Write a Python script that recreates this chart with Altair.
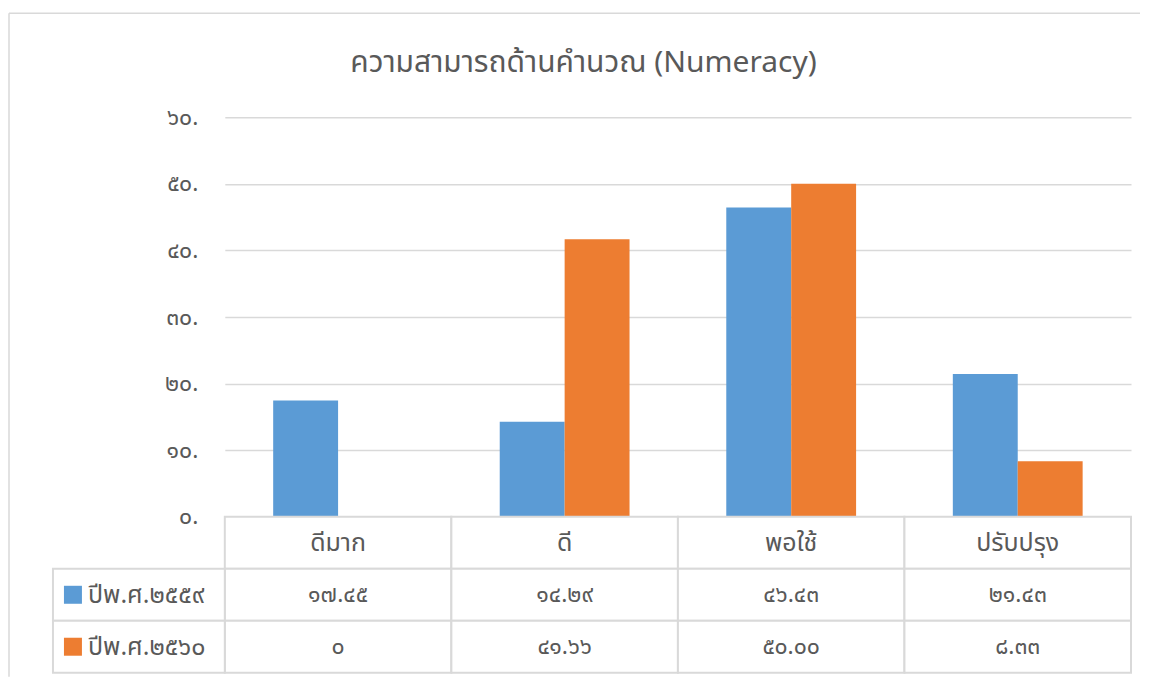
import altair as alt
import pandas as pd

categories = ["ดีมาก", "ดี", "พอใช้", "ปรับปรุง"]
series_names = ["ปีพ.ศ.๒๕๕๙", "ปีพ.ศ.๒๕๖๐"]
values_2559 = [17.45, 14.29, 46.43, 21.43]
values_2560 = [0, 41.66, 50.00, 8.33]
labels_2559 = ["๑๗.๔๕", "๑๔.๒๙", "๔๖.๔๓", "๒๑.๔๓"]
labels_2560 = ["๐", "๔๑.๖๖", "๕๐.๐๐", "๘.๓๓"]
y_ticks = [0, 10, 20, 30, 40, 50, 60]
y_tick_labels = ["๐.", "๑๐.", "๒๐.", "๓๐.", "๔๐.", "๕๐.", "๖๐."]
colors = ["#5B9BD5", "#ED7D31"]
title_text = "ความสามารถด้านคำนวณ  (Numeracy)"

FONT = "Noto Sans Thai, Tahoma, Noto Sans, sans-serif"
GRAY = "#595959"
LINE = "#d9d9d9"

rows = []
for s, vals, labs in [(series_names[0], values_2559, labels_2559),
                      (series_names[1], values_2560, labels_2560)]:
    for c, v, l in zip(categories, vals, labs):
        rows.append({"category": c, "series": s, "value": v, "label": l})
df = pd.DataFrame(rows)

label_expr = " : ".join(
    f"datum.value == {t} ? '{l}'" for t, l in zip(y_ticks, y_tick_labels)
) + " : ''"

color_scale = alt.Scale(domain=series_names, range=colors)

bars = alt.Chart(df).mark_bar().encode(
    x=alt.X("category:N", sort=categories, axis=None,
            scale=alt.Scale(paddingInner=0.427, paddingOuter=0.2135)),
    xOffset=alt.XOffset("series:N", sort=series_names),
    y=alt.Y("value:Q", scale=alt.Scale(domain=[0, 60], nice=False),
            axis=alt.Axis(values=y_ticks, labelExpr=label_expr, title=None,
                          domain=False, ticks=False, gridColor=LINE,
                          gridWidth=1.5, labelColor=GRAY, labelFont=FONT,
                          labelFontSize=23, labelPadding=27)),
    color=alt.Color("series:N", scale=color_scale, legend=None),
)

title_df = pd.DataFrame({"t": [title_text]})
title_mark = alt.Chart(title_df).mark_text(
    font=FONT, fontSize=30, color=GRAY, baseline="middle", align="center"
).encode(x=alt.value(359), y=alt.value(-54), text="t:N")

frame_top = alt.Chart(title_df).mark_rule(color=LINE, strokeWidth=1.5).encode(
    x=alt.value(-216), x2=alt.value(916), y=alt.value(-104))
frame_left = alt.Chart(title_df).mark_rule(color=LINE, strokeWidth=1.5).encode(
    x=alt.value(-216), y=alt.value(-104), y2=alt.value(560))

top = alt.layer(frame_top, frame_left, title_mark, bars).properties(width=907, height=400)

# table
row_keys = ["h", "s1", "s2"]
cells = pd.DataFrame([{"category": c, "row": r} for c in categories for r in row_keys])
ycell = alt.Y("row:N", sort=row_keys, axis=None,
              scale=alt.Scale(domain=row_keys, paddingInner=0, paddingOuter=0))
xcell = alt.X("category:N", sort=categories, axis=None,
              scale=alt.Scale(domain=categories, paddingInner=0, paddingOuter=0))

cell_rects = alt.Chart(cells).mark_rect(fill="white", stroke=LINE, strokeWidth=2).encode(
    x=xcell, y=ycell)

header_df = pd.DataFrame({"category": categories, "row": ["h"] * 4})
header_text = alt.Chart(header_df).mark_text(font=FONT, fontSize=25, color=GRAY).encode(
    x=xcell, y=ycell, text="category:N")

df_t = df.copy()
df_t["row"] = df_t["series"].map({series_names[0]: "s1", series_names[1]: "s2"})
value_text = alt.Chart(df_t).mark_text(font=FONT, fontSize=23, color=GRAY).encode(
    x=xcell, y=ycell, text="label:N")

leg_df = pd.DataFrame({"series": series_names, "row": ["s1", "s2"]})
leg_rects = alt.Chart(leg_df).mark_rect(fill="white", stroke=LINE, strokeWidth=2).encode(
    x=alt.value(-172), x2=alt.value(0), y=ycell)
leg_sq = alt.Chart(leg_df).mark_square(size=324, opacity=1).encode(
    x=alt.value(-152), y=ycell,
    color=alt.Color("series:N", scale=color_scale, legend=None))
leg_text = alt.Chart(leg_df).mark_text(font=FONT, fontSize=25, color=GRAY, align="left").encode(
    x=alt.value(-137), y=ycell, text="series:N")

table = alt.layer(cell_rects, leg_rects, leg_sq, leg_text, header_text, value_text).properties(
    width=907, height=156)

chart = alt.vconcat(top, table, spacing=0, bounds="flush").properties(
    padding={"left": 0, "top": 4, "right": 0, "bottom": 0},
).configure_view(stroke=None)

chart.save("out.html", embed_options={"renderer": "svg", "actions": False})
